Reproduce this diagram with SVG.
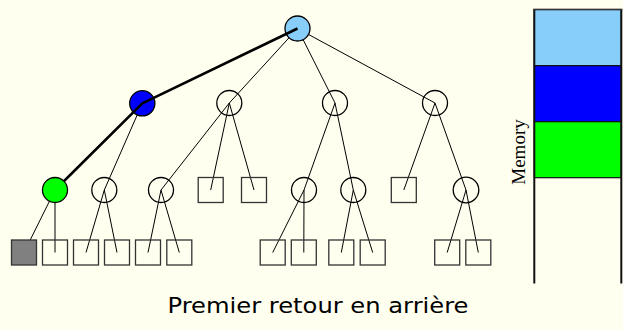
<svg xmlns="http://www.w3.org/2000/svg" width="623" height="330" viewBox="0 0 623 330">
  <style>
    .edge { stroke: #000; stroke-width: 1; fill: none; }
    .path { stroke: #000; stroke-width: 2.6; fill: none; stroke-linejoin: round; }
    .circ { stroke: #000; stroke-width: 1.3; }
    .sq { stroke: #333; stroke-width: 1.3; }
    .hollow { fill: none; }
    .cell { stroke: #111; stroke-width: 1.2; }
  </style>
  <rect width="623" height="330" fill="#FFFFF0"/>

  <!-- tree edges -->
  <g id="edges">
    <line class="edge" x1="297.5" y1="28.5" x2="229.3" y2="103"/>
    <line class="edge" x1="297.5" y1="28.5" x2="335" y2="103"/>
    <line class="edge" x1="297.5" y1="28.5" x2="435" y2="103"/>
    <line class="edge" x1="142.3" y1="103.3" x2="104.3" y2="190"/>
    <line class="edge" x1="229.3" y1="103" x2="161" y2="190"/>
    <line class="edge" x1="229.3" y1="103" x2="210.7" y2="190"/>
    <line class="edge" x1="229.3" y1="103" x2="254" y2="190"/>
    <line class="edge" x1="335" y1="103" x2="304" y2="190"/>
    <line class="edge" x1="335" y1="103" x2="353.3" y2="190"/>
    <line class="edge" x1="435" y1="103" x2="403.8" y2="190"/>
    <line class="edge" x1="435" y1="103" x2="466" y2="190"/>
    <line class="edge" x1="55" y1="190" x2="24" y2="252.5"/>
    <line class="edge" x1="55" y1="190" x2="55" y2="252.5"/>
    <line class="edge" x1="104.3" y1="190" x2="86" y2="252.5"/>
    <line class="edge" x1="104.3" y1="190" x2="117" y2="252.5"/>
    <line class="edge" x1="161" y1="190" x2="148" y2="252.5"/>
    <line class="edge" x1="161" y1="190" x2="179.3" y2="252.5"/>
    <line class="edge" x1="304" y1="190" x2="272.7" y2="252.5"/>
    <line class="edge" x1="304" y1="190" x2="303.8" y2="252.5"/>
    <line class="edge" x1="353.3" y1="190" x2="341.3" y2="252.5"/>
    <line class="edge" x1="353.3" y1="190" x2="372.7" y2="252.5"/>
    <line class="edge" x1="466" y1="190" x2="447.2" y2="252.5"/>
    <line class="edge" x1="466" y1="190" x2="478.3" y2="252.5"/>
  </g>

  <!-- level 0 and 1 -->
  <g id="n-root"><circle class="circ" cx="297.5" cy="28.5" r="12.5" fill="#87CEFA"/></g>
  <g id="n-a"><circle class="circ" cx="142.3" cy="103.3" r="12.6" fill="#0000FF"/></g>
  <g id="n-b"><circle class="circ hollow" cx="229.3" cy="103" r="12.5"/></g>
  <g id="n-c"><circle class="circ hollow" cx="335" cy="103" r="12.5"/></g>
  <g id="n-d"><circle class="circ hollow" cx="435" cy="103" r="12.5"/></g>

  <!-- level 2 -->
  <g id="n-a2"><circle class="circ hollow" cx="104.3" cy="190" r="12.5"/></g>
  <g id="n-b1"><circle class="circ hollow" cx="161" cy="190" r="12.5"/></g>
  <g id="n-b2"><rect class="sq hollow" x="198.2" y="177.5" width="25" height="25"/></g>
  <g id="n-b3"><rect class="sq hollow" x="241.5" y="177.5" width="25" height="25"/></g>
  <g id="n-c1"><circle class="circ hollow" cx="304" cy="190" r="12.5"/></g>
  <g id="n-c2"><circle class="circ hollow" cx="353.3" cy="190" r="12.5"/></g>
  <g id="n-d1"><rect class="sq hollow" x="391.3" y="177.5" width="25" height="25"/></g>
  <g id="n-d2"><circle class="circ hollow" cx="466" cy="190" r="12.8"/></g>

  <!-- level 3 leaves -->
  <g id="l-a1b"><rect class="sq hollow" x="42.5" y="240" width="25" height="25"/></g>
  <g id="l-a2a"><rect class="sq hollow" x="73.5" y="240" width="25" height="25"/></g>
  <g id="l-a2b"><rect class="sq hollow" x="104.5" y="240" width="25" height="25"/></g>
  <g id="l-b1a"><rect class="sq hollow" x="135.5" y="240" width="25" height="25"/></g>
  <g id="l-b1b"><rect class="sq hollow" x="166.8" y="240" width="25" height="25"/></g>
  <g id="l-c1a"><rect class="sq hollow" x="260.2" y="240" width="25" height="25"/></g>
  <g id="l-c1b"><rect class="sq hollow" x="291.3" y="240" width="25" height="25"/></g>
  <g id="l-c2a"><rect class="sq hollow" x="328.8" y="240" width="25" height="25"/></g>
  <g id="l-c2b"><rect class="sq hollow" x="360.2" y="240" width="25" height="25"/></g>
  <g id="l-d2a"><rect class="sq hollow" x="434.7" y="240" width="25" height="25"/></g>
  <g id="l-d2b"><rect class="sq hollow" x="465.8" y="240" width="25" height="25"/></g>

  <!-- current search path -->
  <g id="search-path">
    <polyline class="path" points="297.5,28.5 142.3,103.3 55,190"/>
  </g>

  <g id="n-a1"><circle class="circ" cx="55" cy="190" r="12.5" fill="#00FF00"/></g>
  <g id="l-a1a"><rect class="sq" x="11.5" y="240" width="25" height="25" fill="#808080"/></g>

  <!-- memory stack -->
  <g id="memory">
    <rect class="cell" x="534.3" y="9.5" width="87" height="56.2" fill="#87CEFA"/>
    <rect class="cell" x="534.3" y="65.7" width="87" height="56" fill="#0000FF"/>
    <rect class="cell" x="534.3" y="121.7" width="87" height="56" fill="#00FF00"/>
    <line x1="534.3" y1="9" x2="534.3" y2="283.5" stroke="#111" stroke-width="2"/>
    <line x1="621.3" y1="9" x2="621.3" y2="283.5" stroke="#111" stroke-width="2"/>
    <line x1="533.3" y1="9.5" x2="622.3" y2="9.5" stroke="#333" stroke-width="1.6"/>
    <text x="525" y="152" transform="rotate(-90 525 152)" text-anchor="middle" font-family="'Liberation Serif', serif" font-size="19" fill="#000">Memory</text>
  </g>

  <text x="318" y="313" text-anchor="middle" font-family="'DejaVu Sans', sans-serif" font-size="21" textLength="301" lengthAdjust="spacingAndGlyphs" fill="#000">Premier retour en arrière</text>
</svg>
